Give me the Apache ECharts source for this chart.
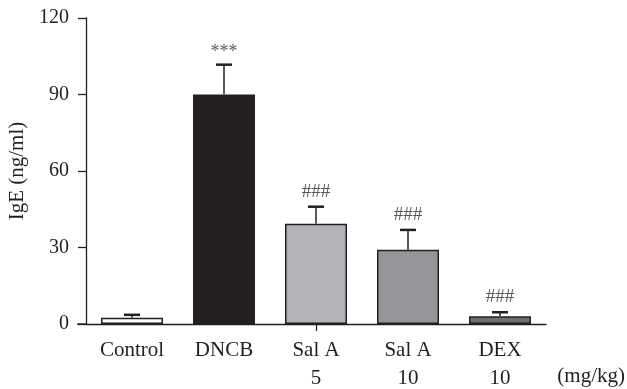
<!DOCTYPE html>
<html>
<head>
<meta charset="utf-8">
<script src="https://cdn.jsdelivr.net/npm/echarts@6/dist/echarts.min.js"></script>
<style>html,body{margin:0;padding:0;background:#fff}#c{width:627px;height:389px}</style>
</head>
<body>
<div id="c"></div>
<script>
var groups = ['Control', 'DNCB', 'Sal A', 'Sal A', 'DEX'];
var doses = ['', '', '5', '10', '10'];
var means = [2.5, 90, 39.3, 29.1, 3.0];
var errors = [1.1, 11.7, 6.7, 7.8, 1.6];
var marks = ['', '***', '###', '###', '###'];
var barColors = ['#ffffff', '#231f20', '#b1b3b6', '#939598', '#6d6e71'];
var yTicks = [0, 30, 60, 90, 120];

var FONT = '"Liberation Serif", "DejaVu Serif", serif';
var categories = groups.map(function (g, i) { return doses[i] ? g + '\n' + doses[i] : g; });

var chart = echarts.init(document.getElementById('c'), null, { renderer: 'canvas' });
function graphics(y0) {
  var g = [
    {
      type: 'text', right: 2, top: 366,
      style: { text: '(mg/kg)', fill: '#231f20', font: '21px ' + FONT }
    }
  ];
  if (y0 != null) {
    g.push({
      type: 'line', shape: { x1: 77, y1: y0, x2: 86, y2: y0 },
      style: { stroke: '#231f20', lineWidth: 1.3 }
    });
  }
  return g;
}
var option = {
  backgroundColor: '#fff',
  animation: false,
  grid: { left: 86, right: 81, top: 18, bottom: 65, outerBoundsMode: 'none', containLabel: false },
  xAxis: {
    type: 'category',
    data: categories,
    axisLine: { show: true, lineStyle: { color: '#231f20', width: 1.3 } },
    axisTick: {
      show: true, alignWithLabel: true, length: 7,
      interval: function (idx) { return idx === 2; },
      lineStyle: { color: '#231f20', width: 1.3 }
    },
    axisLabel: {
      interval: 0, margin: 12, color: '#231f20',
      fontFamily: FONT, fontSize: 21, lineHeight: 28
    }
  },
  yAxis: {
    type: 'value',
    min: yTicks[0], max: yTicks[yTicks.length - 1], interval: 30,
    name: 'IgE (ng/ml)',
    nameLocation: 'middle',
    nameGap: 53,
    nameTextStyle: { color: '#231f20', fontFamily: FONT, fontSize: 21 },
    axisLine: { show: true, lineStyle: { color: '#231f20', width: 1.3 } },
    axisTick: { show: true, length: 8, lineStyle: { color: '#231f20', width: 1.3 } },
    axisLabel: { margin: 17, color: '#231f20', fontFamily: FONT, fontSize: 20 },
    splitLine: { show: false }
  },
  series: [
    {
      type: 'bar',
      barWidth: 62,
      data: means.map(function (v, i) {
        return { value: v, itemStyle: { color: barColors[i] } };
      }),
      itemStyle: { borderColor: '#231f20', borderWidth: 1.5 },
      z: 2
    },
    {
      type: 'custom',
      z: 3,
      data: means.map(function (v, i) { return [i, v, v + errors[i]]; }),
      encode: { x: 0, y: [1, 2] },
      renderItem: function (params, api) {
        var i = api.value(0);
        var base = api.coord([i, api.value(1)]);
        var top = api.coord([i, api.value(2)]);
        var half = 8;
        var children = [
          { type: 'line', shape: { x1: base[0], y1: base[1], x2: top[0], y2: top[1] },
            style: { stroke: '#58595b', lineWidth: 2 } },
          { type: 'line', shape: { x1: top[0] - half, y1: top[1], x2: top[0] + half, y2: top[1] },
            style: { stroke: '#231f20', lineWidth: 2.5 } }
        ];
        var m = marks[params.dataIndex];
        if (m) {
          children.push({
            type: 'text',
            style: {
              text: m, x: top[0], y: top[1] - (m === '***' ? 12 : 15),
              textAlign: 'center', textVerticalAlign: 'middle',
              fill: '#58595b', font: (m === '***' ? '18px ' : '19px ') + FONT
            }
          });
        }
        return { type: 'group', children: children };
      }
    }
  ],
  graphic: graphics(null)
};
chart.setOption(option);
var p0 = chart.convertToPixel({ xAxisIndex: 0, yAxisIndex: 0 }, [0, 0]);
chart.setOption({ graphic: graphics(p0[1]) });
</script>
</body>
</html>
